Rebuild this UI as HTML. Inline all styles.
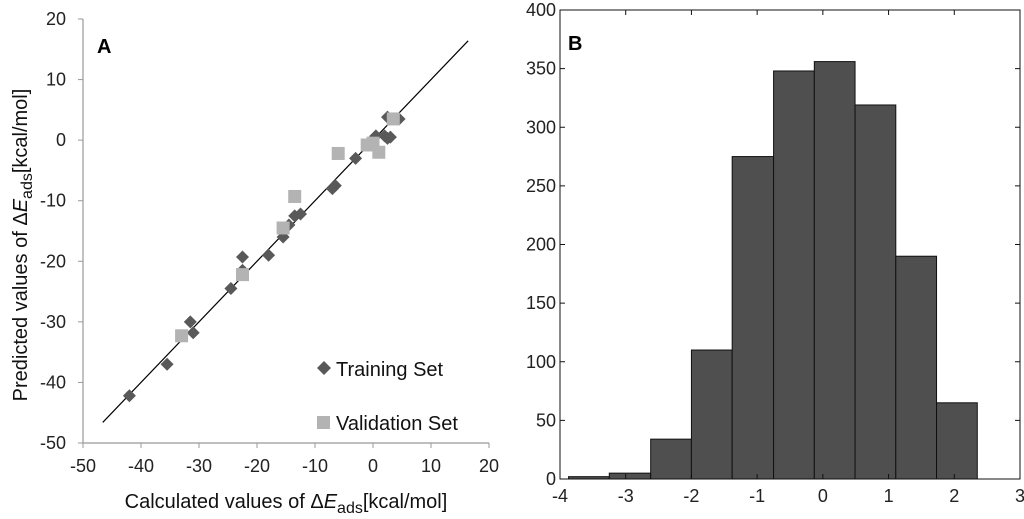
<!DOCTYPE html>
<html><head><meta charset="utf-8"><style>
html,body{margin:0;padding:0;background:#fff;width:1024px;height:519px;overflow:hidden}
svg{display:block;font-family:"Liberation Sans",sans-serif}
</style></head><body>
<svg id="chart" width="1024" height="519" viewBox="0 0 1024 519"></svg>
<script>
// Panel A data
const trainX=[-42,-35.5,-31.5,-31,-24.5,-22.5,-22.5,-18,-15.5,-14.5,-13.5,-12.5,-7,-6.5,-3,-1,0.5,2,2.5,3,2.5,4.5,-0.5];
const trainY=[-42.2,-37,-30,-31.8,-24.5,-19.3,-21.5,-19,-16,-14,-12.5,-12.2,-8,-7.5,-3,-0.8,0.7,0.7,0.3,0.5,3.8,3.5,-0.3];
const valX=[-33,-22.5,-15.5,-13.5,-6,-1,1,3.5,0];
const valY=[-32.3,-22.2,-14.5,-9.3,-2.2,-0.8,-2,3.5,-0.5];
const fitLine=[-46.6,16.4];
const aXTicks=[-50,-40,-30,-20,-10,0,10,20];
const aYTicks=[20,10,0,-10,-20,-30,-40,-50];
// Panel B data
const binEdges=[-3.87,-3.25,-2.62,-2.0,-1.38,-0.75,-0.13,0.49,1.11,1.73,2.35];
const counts=[2,5,34,110,275,348,356,319,190,65];
const bXTicks=[-4,-3,-2,-1,0,1,2,3];
const bYTicks=[0,50,100,150,200,250,300,350,400];

const svg=document.getElementById('chart');
const NS='http://www.w3.org/2000/svg';
function mk(tag,attrs,parent){const e=document.createElementNS(NS,tag);for(const k in attrs)e.setAttribute(k,attrs[k]);(parent||svg).appendChild(e);return e;}

const ax=v=>83+(v+50)*(489-83)/70;
const ay=v=>443-(v+50)*(443-19)/70;
const gA=mk('g',{});


let l=mk('line',{x1:83,y1:19,x2:83,y2:443,stroke:'#999','stroke-width':1.2},gA);

l=mk('line',{x1:83,y1:443,x2:489,y2:443,stroke:'#999','stroke-width':1.2},gA);

aYTicks.forEach(v=>{
  mk('line',{x1:78,x2:83,y1:ay(v),y2:ay(v),stroke:'#999'},gA);
  const t=mk('text',{x:66,y:ay(v)+6,'text-anchor':'end','font-size':18,fill:'#222'},gA);
  t.textContent=v;
  
  
});
aXTicks.forEach(v=>{
  mk('line',{x1:ax(v),x2:ax(v),y1:443,y2:448,stroke:'#999'},gA);
  const t=mk('text',{x:ax(v),y:472,'text-anchor':'middle','font-size':18,fill:'#222'},gA);
  t.textContent=v;
  
  
});
l=mk('line',{x1:ax(fitLine[0]),y1:ay(fitLine[0]),x2:ax(fitLine[1]),y2:ay(fitLine[1]),stroke:'#000','stroke-width':1.2},gA);

trainX.forEach((x,i)=>{
  const cx=ax(x),cy=ay(trainY[i]);
  const p=mk('polygon',{points:`${cx},${cy-6.5} ${cx+6.5},${cy} ${cx},${cy+6.5} ${cx-6.5},${cy}`,fill:'#595959'},gA);
  
  
});
valX.forEach((x,i)=>{
  const cx=ax(x),cy=ay(valY[i]);
  const r=mk('rect',{x:cx-6.5,y:cy-6.5,width:13,height:13,fill:'#b3b3b3'},gA);
  
  
});
</script>
<script>
(function(){
const svg=document.getElementById('chart');
const NS='http://www.w3.org/2000/svg';
function mk(tag,attrs,parent){const e=document.createElementNS(NS,tag);for(const k in attrs)e.setAttribute(k,attrs[k]);(parent||svg).appendChild(e);return e;}
let t=mk('text',{x:97,y:53,'font-size':20,'font-weight':'bold',fill:'#000'});t.textContent='A';

let p=mk('polygon',{points:'324,361 331,368 324,375 317,368',fill:'#595959'});

t=mk('text',{x:336,y:376,'font-size':20,fill:'#111'});t.textContent='Training Set';

let r=mk('rect',{x:317,y:416,width:13,height:13,fill:'#b3b3b3'});

t=mk('text',{x:336,y:430,'font-size':20,fill:'#111'});t.textContent='Validation Set';

t=mk('text',{x:286,y:508,'text-anchor':'middle','font-size':20,fill:'#111'});
t.innerHTML='Calculated values of Δ<tspan font-style="italic">E</tspan><tspan font-size="16" dy="5">ads</tspan><tspan dy="-5">[kcal/mol]</tspan>';

t=mk('text',{x:0,y:0,'text-anchor':'middle','font-size':20,fill:'#111',transform:'translate(27,245) rotate(-90)'});
t.innerHTML='Predicted values of Δ<tspan font-style="italic">E</tspan><tspan font-size="16" dy="5">ads</tspan><tspan dy="-5">[kcal/mol]</tspan>';


const bx=v=>560+(v+4)*(1020-560)/7;
const by=v=>479-v*(479-10)/400;
const g=mk('g',{});


counts.forEach((c,i)=>{
  const x0=bx(binEdges[i]),x1=bx(binEdges[i+1]);
  const b=mk('rect',{x:x0,y:by(c),width:x1-x0,height:by(0)-by(c),fill:'#4f4f4f',stroke:'#111','stroke-width':1},g);
  
  
});
let f=mk('rect',{x:560,y:10,width:460,height:469,fill:'none',stroke:'#111','stroke-width':1},g);

bYTicks.forEach(v=>{
  mk('line',{x1:560,x2:565,y1:by(v),y2:by(v),stroke:'#111'},g);
  mk('line',{x1:1015,x2:1020,y1:by(v),y2:by(v),stroke:'#111'},g);
  const tt=mk('text',{x:556,y:by(v)+6,'text-anchor':'end','font-size':18,fill:'#222'},g);
  tt.textContent=v;
  
  
});
bXTicks.forEach(v=>{
  mk('line',{x1:bx(v),x2:bx(v),y1:479,y2:474,stroke:'#111'},g);
  mk('line',{x1:bx(v),x2:bx(v),y1:10,y2:15,stroke:'#111'},g);
  const tt=mk('text',{x:bx(v),y:502,'text-anchor':'middle','font-size':18,fill:'#222'},g);
  tt.textContent=v;
  
  
});
t=mk('text',{x:568,y:50,'font-size':20,'font-weight':'bold',fill:'#000'});t.textContent='B';

})();
</script>
</body></html>
